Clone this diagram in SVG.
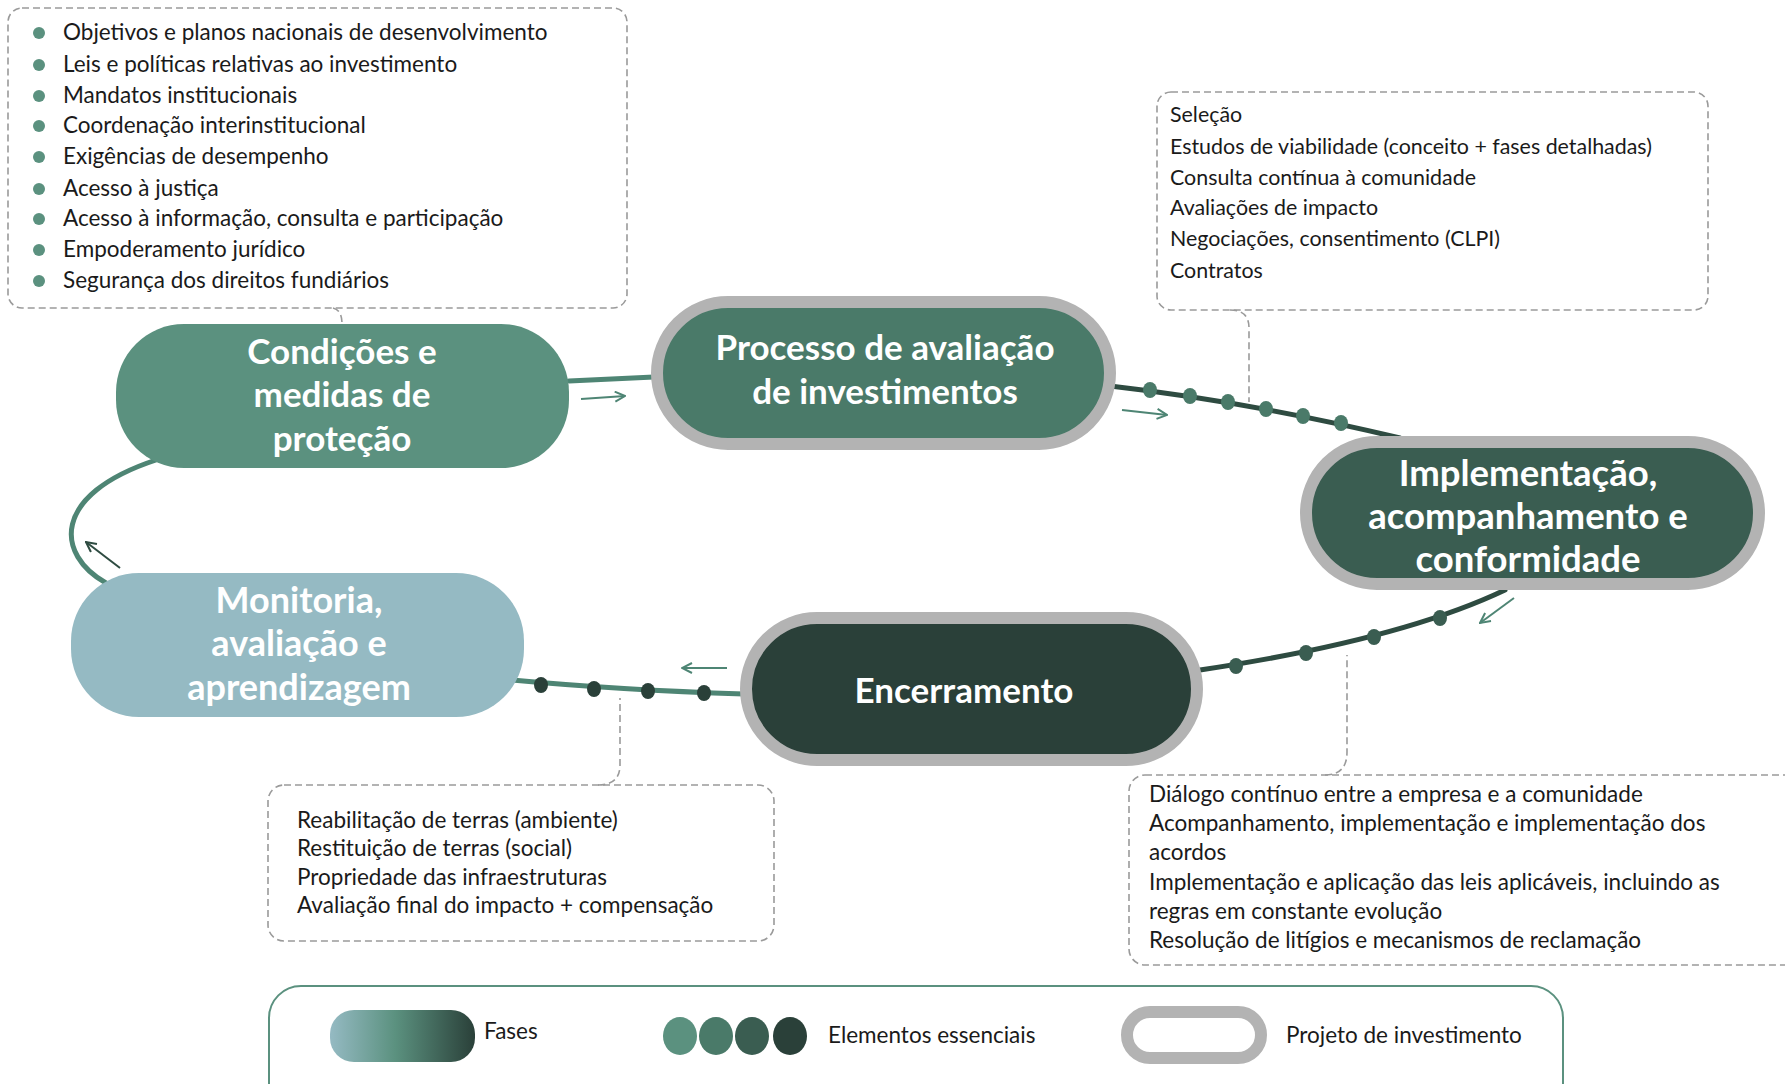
<svg xmlns="http://www.w3.org/2000/svg" width="1785" height="1084" viewBox="0 0 1785 1084">
<style>
.box{fill:none;stroke:#9a9a9a;stroke-width:1.6;stroke-dasharray:7 4}
.tail{fill:none;stroke:#9a9a9a;stroke-width:1.6;stroke-dasharray:7 4}
.t{font-family:Lato,"Liberation Sans",sans-serif;font-size:22.5px;fill:#1a1a1a}
.t2{font-family:Lato,"Liberation Sans",sans-serif;font-size:21.4px;fill:#1a1a1a}
.n{font-family:Lato,"Liberation Sans",sans-serif;font-size:35px;font-weight:bold;fill:#ffffff;text-anchor:middle}
.ring{stroke:#b3b3b3;stroke-width:12}
.con{fill:none;stroke-width:5;stroke-linecap:round}
.arr{fill:none;stroke-width:2;marker-end:url(#ah)}
.bul{fill:#5b917f}
</style>
<defs>
<marker id="ah" viewBox="0 0 12 12" refX="11" refY="6" markerWidth="12" markerHeight="12" markerUnits="userSpaceOnUse" orient="auto">
<path d="M1,1 L11,6 L1,11" fill="none" stroke="context-stroke" stroke-width="2"/>
</marker>
<linearGradient id="gf" x1="0" y1="0" x2="1" y2="0">
<stop offset="0" stop-color="#95bac3"/>
<stop offset="0.45" stop-color="#5b917f"/>
<stop offset="1" stop-color="#2a4039"/>
</linearGradient>
</defs>
<rect width="1785" height="1084" fill="#ffffff"/>

<g id="connectors">
<path class="con" stroke="#4e8574" d="M569,381 L654,377"/>
<path class="con" stroke="#2e4b41" d="M1110,386 Q1250,402 1400,438"/>
<path class="con" stroke="#2e4b41" d="M1505,590 Q1400,640 1200,670"/>
<path class="con" stroke="#4e8574" d="M744,694 Q620,690 512,680"/>
<path class="con" stroke="#4e8574" d="M106,583 C56,555 50,495 156,460"/>
<path class="arr" stroke="#4e8574" d="M581,399 L625,396"/>
<path class="arr" stroke="#4e8574" d="M1122,410 L1167,415"/>
<path class="arr" stroke="#4e8574" d="M1514,598 L1480,623"/>
<path class="arr" stroke="#4e8574" d="M727,668 L682,668"/>
<path class="arr" stroke="#2e4b41" d="M120,568 L86,542"/>
<g fill="#4a7a69">
<ellipse cx="1150" cy="390" rx="7" ry="8"/>
<ellipse cx="1190" cy="396" rx="7" ry="8"/>
<ellipse cx="1228" cy="402" rx="7" ry="8"/>
<ellipse cx="1266" cy="409" rx="7" ry="8"/>
<ellipse cx="1303" cy="416" rx="7" ry="8"/>
<ellipse cx="1341" cy="423" rx="7" ry="8"/>
</g>
<g fill="#3a5d51">
<ellipse cx="1440" cy="618" rx="7" ry="8"/>
<ellipse cx="1374" cy="637" rx="7" ry="8"/>
<ellipse cx="1306" cy="653" rx="7" ry="8"/>
<ellipse cx="1236" cy="666" rx="7" ry="8"/>
</g>
<g fill="#2a4039">
<ellipse cx="541" cy="685" rx="7" ry="8"/>
<ellipse cx="594" cy="689" rx="7" ry="8"/>
<ellipse cx="648" cy="691" rx="7" ry="8"/>
<ellipse cx="704" cy="693" rx="7" ry="8"/>
</g>
</g>

<g id="callout-conditions">
<rect class="box" x="8" y="8" width="619" height="300" rx="14"/>
<path class="tail" d="M333,308 Q342,310 342,324"/>
<g class="bul">
<circle cx="39" cy="33" r="6"/><circle cx="39" cy="65" r="6"/><circle cx="39" cy="96" r="6"/>
<circle cx="39" cy="126" r="6"/><circle cx="39" cy="157" r="6"/><circle cx="39" cy="189" r="6"/>
<circle cx="39" cy="219" r="6"/><circle cx="39" cy="250" r="6"/><circle cx="39" cy="281" r="6"/>
</g>
<text class="t" x="63" y="40">Objetivos e planos nacionais de desenvolvimento</text>
<text class="t" x="63" y="72">Leis e políticas relativas ao investimento</text>
<text class="t" x="63" y="103">Mandatos institucionais</text>
<text class="t" x="63" y="133">Coordenação interinstitucional</text>
<text class="t" x="63" y="164">Exigências de desempenho</text>
<text class="t" x="63" y="196">Acesso à justiça</text>
<text class="t" x="63" y="226">Acesso à informação, consulta e participação</text>
<text class="t" x="63" y="257">Empoderamento jurídico</text>
<text class="t" x="63" y="288">Segurança dos direitos fundiários</text>
</g>

<g id="callout-assessment">
<rect class="box" x="1157" y="92" width="551" height="218" rx="14"/>
<path class="tail" d="M1230,310 Q1249,310 1249,328 L1249,402"/>
<text class="t2" x="1170" y="122">Seleção</text>
<text class="t2" x="1170" y="154">Estudos de viabilidade (conceito + fases detalhadas)</text>
<text class="t2" x="1170" y="185">Consulta contínua à comunidade</text>
<text class="t2" x="1170" y="215">Avaliações de impacto</text>
<text class="t2" x="1170" y="246">Negociações, consentimento (CLPI)</text>
<text class="t2" x="1170" y="278">Contratos</text>
</g>

<g id="callout-closure">
<rect class="box" x="268" y="785" width="506" height="156" rx="16"/>
<path class="tail" d="M598,785 Q620,785 620,765 L620,698"/>
<text class="t" x="297" y="828">Reabilitação de terras (ambiente)</text>
<text class="t" x="297" y="856">Restituição de terras (social)</text>
<text class="t" x="297" y="885">Propriedade das infraestruturas</text>
<text class="t" x="297" y="913">Avaliação final do impacto + compensação</text>
</g>

<g id="callout-implementation">
<rect class="box" x="1129" y="775" width="700" height="190" rx="16"/>
<path class="tail" d="M1325,775 Q1347,775 1347,752 L1347,655"/>
<text class="t" x="1149" y="802">Diálogo contínuo entre a empresa e a comunidade</text>
<text class="t" x="1149" y="831">Acompanhamento, implementação e implementação dos</text>
<text class="t" x="1149" y="860">acordos</text>
<text class="t" x="1149" y="890">Implementação e aplicação das leis aplicáveis, incluindo as</text>
<text class="t" x="1149" y="919">regras em constante evolução</text>
<text class="t" x="1149" y="948">Resolução de litígios e mecanismos de reclamação</text>
</g>

<g id="node-conditions">
<rect x="116" y="324" width="453" height="144" rx="68" fill="#5b917f"/>
<text class="n" x="342" y="364">Condições e</text>
<text class="n" x="342" y="407">medidas de</text>
<text class="n" x="342" y="451">proteção</text>
</g>

<g id="node-assessment">
<rect class="ring" x="657" y="302" width="453" height="142" rx="71" fill="#4a7a69"/>
<text class="n" x="885" y="360">Processo de avaliação</text>
<text class="n" x="885" y="404">de investimentos</text>
</g>

<g id="node-implementation">
<rect class="ring" x="1306" y="442" width="453" height="142" rx="71" fill="#3a5d51"/>
<text class="n" x="1528" y="486" style="font-size:36.5px">Implementação,</text>
<text class="n" x="1528" y="529" style="font-size:36.5px">acompanhamento e</text>
<text class="n" x="1528" y="572" style="font-size:36.5px">conformidade</text>
</g>

<g id="node-closure">
<rect class="ring" x="746" y="618" width="451" height="142" rx="71" fill="#2a4039"/>
<text class="n" x="964" y="703">Encerramento</text>
</g>

<g id="node-monitoring">
<rect x="71" y="573" width="453" height="144" rx="68" fill="#95bac3"/>
<text class="n" x="299" y="613" style="font-size:36px">Monitoria,</text>
<text class="n" x="299" y="656" style="font-size:36px">avaliação e</text>
<text class="n" x="299" y="700" style="font-size:36px">aprendizagem</text>
</g>

<g id="legend">
<rect x="269" y="986" width="1294" height="130" rx="32" fill="none" stroke="#5b917f" stroke-width="2"/>
<rect x="330" y="1010" width="145" height="52" rx="24" fill="url(#gf)"/>
<text class="t" x="484" y="1039">Fases</text>
<ellipse cx="680" cy="1036" rx="17" ry="19" fill="#5b917f"/>
<ellipse cx="716" cy="1036" rx="17" ry="19" fill="#4a7a69"/>
<ellipse cx="752" cy="1036" rx="17" ry="19" fill="#3a5d51"/>
<ellipse cx="790" cy="1036" rx="17" ry="19" fill="#2a4039"/>
<text class="t" x="828" y="1043">Elementos essenciais</text>
<rect x="1127" y="1012" width="134" height="46" rx="23" fill="none" stroke="#b3b3b3" stroke-width="12"/>
<text class="t" x="1286" y="1043">Projeto de investimento</text>
</g>
</svg>
